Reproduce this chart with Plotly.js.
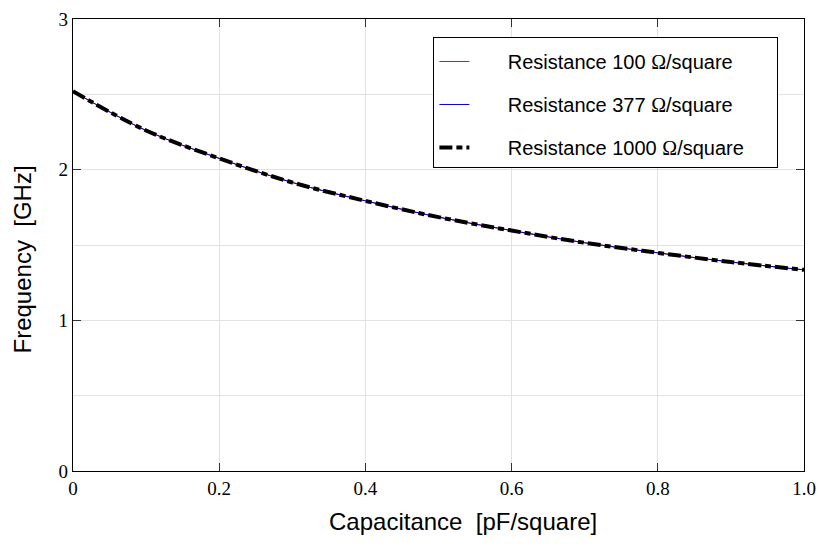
<!DOCTYPE html>
<html>
<head>
<meta charset="utf-8">
<script src="https://cdn.plot.ly/plotly-3.0.1.min.js"></script>
<style>html,body{margin:0;padding:0;background:#fff;}#chart{width:818px;height:548px;}</style>
</head>
<body>
<div id="chart"></div>
<script>
// Capacitance [pF/square]
const capacitance = [0, 0.1, 0.2, 0.3, 0.4, 0.5, 0.6, 0.7, 0.8, 0.9, 1.0];
// Frequency [GHz] for each sheet resistance
const freqR100  = [2.52, 2.26, 2.075, 1.915, 1.793, 1.685, 1.596, 1.515, 1.448, 1.387, 1.335];
const freqR377  = [2.52, 2.26, 2.075, 1.915, 1.793, 1.685, 1.596, 1.515, 1.448, 1.387, 1.335];
const freqR1000 = [2.52, 2.26, 2.075, 1.915, 1.793, 1.685, 1.596, 1.515, 1.448, 1.387, 1.335];
const OMEGA = '<span style="font-family:Liberation Serif">Ω</span>';
const PAD_L = '&nbsp;&nbsp;&nbsp;&nbsp;&nbsp;&nbsp;';
const PAD_R = '&nbsp;&nbsp;&nbsp;&nbsp;&nbsp;';
const seriesNames = [
  'Resistance 100 ' + OMEGA + '/square',
  'Resistance 377 ' + OMEGA + '/square',
  'Resistance 1000 ' + OMEGA + '/square'
];
const xTickVals = [0, 0.2, 0.4, 0.6, 0.8, 1.0];
const xTickText = ['0', '0.2', '0.4', '0.6', '0.8', '1.0'];
const yTickVals = [0, 1, 2, 3];
const yTickText = ['0', '1', '2', '3'];
const xTitle = 'Capacitance&nbsp;&nbsp;[pF/square]';
const yTitle = 'Frequency&nbsp;&nbsp;[GHz]';

const traces = [
  {x: capacitance, y: freqR100, name: PAD_L + seriesNames[0] + PAD_R, legendgroup: 'a', mode: 'lines',
   line: {color: '#ff0000', width: 1, shape: 'spline'}},
  {x: capacitance, y: freqR377, name: PAD_L + seriesNames[1] + PAD_R, legendgroup: 'b', mode: 'lines',
   line: {color: '#0000cc', width: 1, shape: 'spline'}},
  {x: capacitance, y: freqR1000, name: PAD_L + seriesNames[2] + PAD_R, legendgroup: 'c', mode: 'lines',
   line: {color: '#000000', width: 4, shape: 'spline', dash: '13px,4px,6px,4px'}}
];

const axisCommon = {
  showline: true, linecolor: '#000', linewidth: 1.2, mirror: 'allticks',
  ticks: 'inside', ticklen: 8, tickcolor: '#333', tickwidth: 1.2,
  showgrid: true, gridcolor: '#e2e2e2', gridwidth: 1, zeroline: false,
  tickfont: {family: 'Liberation Serif, Times New Roman, serif', size: 19, color: '#000'}
};

const titleFont = {family: 'Liberation Sans, Arial, sans-serif', size: 24, color: '#000'};

const layout = {
  width: 818, height: 548,
  margin: {l: 73, r: 14, t: 19, b: 77},
  paper_bgcolor: '#fff', plot_bgcolor: '#fff',
  showlegend: true,
  xaxis: Object.assign({}, axisCommon, {
    range: [0, 1], tickmode: 'array', tickvals: xTickVals, ticktext: xTickText
  }),
  yaxis: Object.assign({}, axisCommon, {
    range: [0, 3], tickmode: 'array', tickvals: yTickVals, ticktext: yTickText,
    minor: {dtick: 0.5, showgrid: true, gridcolor: '#e2e2e2', gridwidth: 1, ticks: ''}
  }),
  annotations: [
    {text: xTitle, xref: 'paper', yref: 'paper', x: 0.533, y: -0.112,
     xanchor: 'center', yanchor: 'middle', showarrow: false, font: titleFont},
    {text: yTitle, xref: 'paper', yref: 'paper', x: -0.069, y: 0.467, textangle: -90,
     xanchor: 'center', yanchor: 'middle', showarrow: false, font: titleFont}
  ],
  legend: {
    x: 0.493, y: 0.96, xanchor: 'left', yanchor: 'top',
    bgcolor: '#fff', bordercolor: '#000', borderwidth: 1,
    font: {family: 'Liberation Sans, Arial, sans-serif', size: 20, color: '#000'},
    title: {text: '&nbsp;', font: {size: 3}},
    itemwidth: 30, tracegroupgap: 14, traceorder: 'grouped'
  }
};

Plotly.newPlot('chart', traces, layout, {displayModeBar: false, staticPlot: true});
</script>
</body>
</html>
